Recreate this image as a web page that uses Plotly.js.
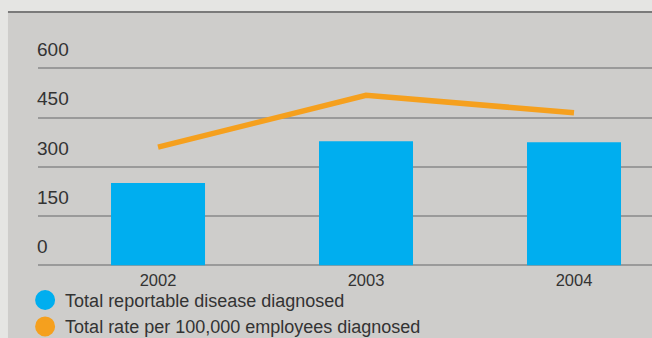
<!DOCTYPE html>
<html>
<head>
<meta charset="utf-8">
<script src="https://cdn.plot.ly/plotly-3.0.1.min.js"></script>
<style>html,body{margin:0;padding:0;background:#e5e5e3;}#chart{width:652px;height:338px;}</style>
</head>
<body>
<div id="chart"></div>
<script>
var years = ['2002', '2003', '2004'];
var diseaseDiagnosed = [251, 378, 375];
var ratePer100k = [360, 518, 465];
var yTicks = [0, 150, 300, 450, 600];
var seriesNames = ['Total reportable disease diagnosed', 'Total rate per 100,000 employees diagnosed'];
var colors = ['#00aeef', '#f5a01e'];

var traces = [
  {type: 'bar', x: years, y: diseaseDiagnosed, marker: {color: colors[0]}, width: 0.452, showlegend: false},
  {type: 'scatter', mode: 'lines', x: years, y: ratePer100k, line: {color: colors[1], width: 5.5}, showlegend: false},
  {type: 'scatter', mode: 'markers', x: [null], y: [null], name: seriesNames[0], marker: {symbol: 'circle', size: 16, color: colors[0], line: {color: colors[0], width: 4}}},
  {type: 'scatter', mode: 'markers', x: [null], y: [null], name: seriesNames[1], marker: {symbol: 'circle', size: 16, color: colors[1], line: {color: colors[1], width: 4}}}
];

// plot area: x 38..652, y 30..268
var layout = {
  width: 652, height: 338,
  margin: {l: 38, r: 0, t: 30, b: 70, pad: 0, autoexpand: false},
  paper_bgcolor: '#e5e5e3',
  plot_bgcolor: 'rgba(0,0,0,0)',
  font: {family: 'Liberation Sans, Arial, sans-serif', color: '#333333'},
  xaxis: {
    type: 'category', range: [-0.577, 2.375], showgrid: false, zeroline: false, showline: false,
    ticks: '', tickfont: {size: 16.5, color: '#333333'}, fixedrange: true
  },
  yaxis: {
    range: [-8, 717], tickvals: yTicks, ticktext: yTicks.map(String),
    showgrid: true, gridcolor: '#9a9a9a', gridwidth: 2,
    zeroline: false, showline: false, ticks: '',
    ticklabelposition: 'inside', ticklabelshift: -19, ticklabelstandoff: -4,
    tickfont: {size: 19, color: '#333333'}, fixedrange: true
  },
  showlegend: true,
  legend: {
    x: -0.021, xanchor: 'left', y: -0.058, yanchor: 'top',
    bgcolor: 'rgba(0,0,0,0)', font: {size: 18, color: '#333333'},
    itemclick: false, itemdoubleclick: false
  },
  shapes: [
    {type: 'rect', xref: 'paper', yref: 'paper', x0: -0.0489, x1: 1.01, y0: -0.35, y1: 1.0756, fillcolor: '#cecdcb', line: {width: 0}, layer: 'below'},
    {type: 'line', xref: 'paper', yref: 'paper', x0: -0.0489, x1: 1.01, y0: 1.0756, y1: 1.0756, line: {color: '#7a7a7a', width: 2}, layer: 'below'}
  ]
};

Plotly.newPlot('chart', traces, layout, {displayModeBar: false, staticPlot: true});
</script>
</body>
</html>
